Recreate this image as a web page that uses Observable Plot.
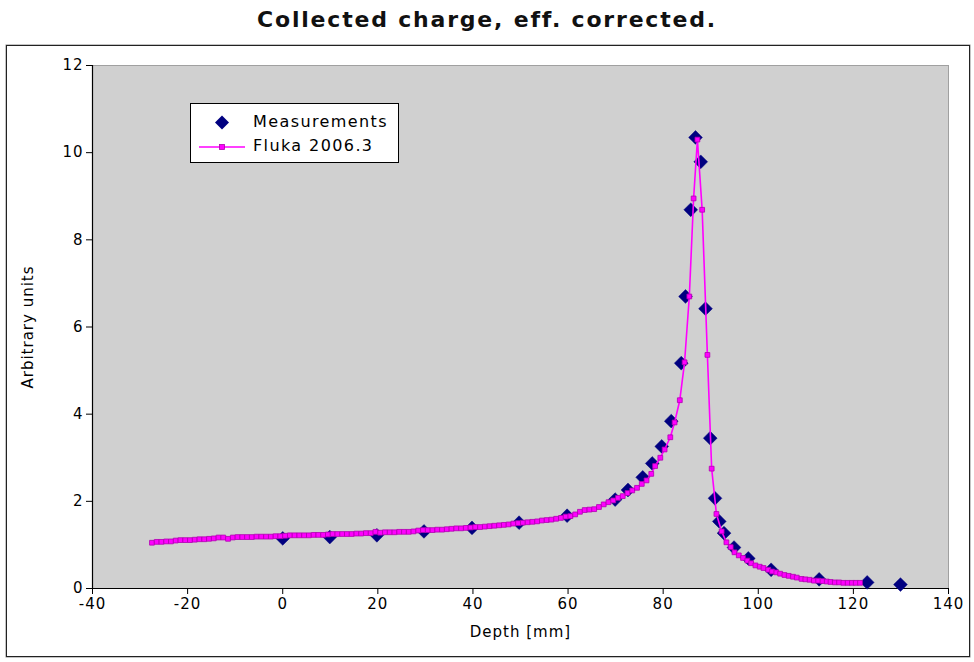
<!DOCTYPE html>
<html>
<head>
<meta charset="utf-8">
<script src="https://cdn.jsdelivr.net/npm/d3@7"></script>
<script src="https://cdn.jsdelivr.net/npm/@observablehq/plot@0.6"></script>
<style>
  html, body { margin: 0; padding: 0; background: #fff; width: 974px; height: 662px; overflow: hidden; font-family: "DejaVu Sans", sans-serif; }
  #title { position: absolute; left: 0; top: 7px; width: 974px; text-align: center; font: bold 22px "DejaVu Sans", sans-serif; letter-spacing: 1.8px; color: #111; }
  #box { position: absolute; left: 6px; top: 45px; width: 962px; height: 610px; border: 1px solid #222; box-shadow: 0 0 0 0.5px #888; }
  #chart { position: absolute; left: 0; top: 0; }
  #chart text { letter-spacing: 1px; }
  #legend { position: absolute; left: 183px; top: 57px; width: 207px; height: 58px; background: #fff; border: 1px solid #000; }
  #legend svg { position: absolute; left: 0; top: 0; }
  .lt { position: absolute; left: 62px; font: 16px "DejaVu Sans", sans-serif; letter-spacing: 1.4px; color: #000; line-height: 20px; }
</style>
</head>
<body>
<div id="title">Collected charge, eff. corrected.</div>
<div id="box">
  <div id="chart"></div>
  <div id="legend">
    <svg width="207" height="58">
      <path d="M31,11.5 L38,18.5 L31,25.5 L24,18.5 Z" fill="#000080"/>
      <line x1="8" y1="43" x2="54" y2="43" stroke="#ff00ff" stroke-width="1.5"/>
      <rect x="28.5" y="40.5" width="5" height="5" fill="#ff00ff" stroke="#b000b0" stroke-width="0.8"/>
    </svg>
    <div class="lt" style="top:8px">Measurements</div>
    <div class="lt" style="top:32px">Fluka 2006.3</div>
  </div>
</div>
<script>
// Measurements (diamonds)
const measDepth = [0, 9.9, 19.8, 29.7, 39.8, 49.7, 59.8, 69.9, 72.6, 75.7, 77.7, 79.7, 81.7, 83.8, 84.7, 85.8, 86.8, 87.9, 88.9, 89.9, 90.9, 91.8, 92.8, 94.9, 97.9, 102.7, 112.8, 122.9, 129.9];
const measValue = [1.15, 1.18, 1.22, 1.31, 1.39, 1.51, 1.67, 2.04, 2.26, 2.55, 2.87, 3.26, 3.84, 5.17, 6.70, 8.69, 10.35, 9.79, 6.42, 3.45, 2.07, 1.54, 1.27, 0.94, 0.69, 0.43, 0.21, 0.14, 0.09];

// Fluka 2006.3 simulation (line + small squares)
const flukaDepth = [-27.5, -26.5, -25.5, -24.5, -23.5, -22.5, -21.5, -20.5, -19.5, -18.5, -17.5, -16.5, -15.5, -14.5, -13.5, -12.5, -11.5, -10.5, -9.5, -8.5, -7.5, -6.5, -5.5, -4.5, -3.5, -2.5, -1.5, -0.5,
  0.5, 1.5, 2.5, 3.5, 4.5, 5.5, 6.5, 7.5, 8.5, 9.5, 10.5, 11.5, 12.5, 13.5, 14.5, 15.5, 16.5, 17.5, 18.5, 19.5, 20.5, 21.5, 22.5, 23.5, 24.5, 25.5, 26.5, 27.5, 28.5, 29.5,
  30.5, 31.5, 32.5, 33.5, 34.5, 35.5, 36.5, 37.5, 38.5, 39.5, 40.5, 41.5, 42.5, 43.5, 44.5, 45.5, 46.5, 47.5, 48.5, 49.5, 50.5, 51.5, 52.5, 53.5, 54.5, 55.5, 56.5, 57.5, 58.5, 59.5,
  60.5, 61.5, 62.5, 63.5, 64.5, 65.5, 66.5, 67.5, 68.5, 69.5, 70.5, 71.5, 72.5, 73.5, 74.5, 75.5, 76.5, 77.5, 78.3, 79.4, 80.3, 81.5, 82.4, 83.5, 84.5, 85.5, 86.4, 87.2, 88.2, 89.3, 90.2,
  91.2, 92.3, 93.3, 94.2, 95.0, 95.9, 96.8, 97.7, 98.5, 99.4, 100.3, 101.1, 102.1, 102.9, 103.8, 104.6, 105.5, 106.4, 107.3, 108.1, 109.1, 109.9, 110.8, 111.7, 112.6, 113.5, 114.4, 115.2, 116.1, 117.0, 117.9, 118.8, 119.7, 120.5, 121.4];
const flukaValue = [1.05, 1.07, 1.07, 1.08, 1.08, 1.10, 1.11, 1.11, 1.11, 1.12, 1.13, 1.13, 1.14, 1.15, 1.17, 1.17, 1.14, 1.17, 1.18, 1.18, 1.18, 1.18, 1.19, 1.19, 1.19, 1.19, 1.20, 1.20,
  1.21, 1.22, 1.22, 1.22, 1.22, 1.22, 1.23, 1.23, 1.23, 1.24, 1.25, 1.25, 1.25, 1.25, 1.25, 1.26, 1.26, 1.27, 1.27, 1.30, 1.28, 1.29, 1.29, 1.29, 1.30, 1.30, 1.30, 1.31, 1.33, 1.34,
  1.34, 1.34, 1.35, 1.35, 1.36, 1.37, 1.38, 1.38, 1.39, 1.40, 1.41, 1.41, 1.42, 1.43, 1.44, 1.45, 1.46, 1.47, 1.49, 1.50, 1.51, 1.52, 1.53, 1.54, 1.56, 1.57, 1.58, 1.60, 1.62, 1.65,
  1.66, 1.70, 1.76, 1.80, 1.81, 1.82, 1.87, 1.93, 1.98, 2.02, 2.08, 2.12, 2.19, 2.25, 2.31, 2.40, 2.48, 2.63, 2.81, 3.00, 3.19, 3.47, 3.81, 4.32, 5.19, 6.70, 8.95, 10.30, 8.69, 5.36, 2.75,
  1.71, 1.31, 1.06, 0.95, 0.83, 0.76, 0.70, 0.64, 0.58, 0.53, 0.50, 0.47, 0.43, 0.39, 0.37, 0.34, 0.31, 0.29, 0.27, 0.25, 0.22, 0.21, 0.20, 0.18, 0.18, 0.17, 0.16, 0.15, 0.14, 0.14, 0.13, 0.13, 0.13, 0.13, 0.13];

const xTicks = [-40, -20, 0, 20, 40, 60, 80, 100, 120, 140];
const yTicks = [0, 2, 4, 6, 8, 10, 12];
const xLabel = "Depth [mm]";
const yLabel = "Arbitrary units";

const meas = measDepth.map((d, i) => ({depth: d, value: measValue[i]}));
const fluka = flukaDepth.map((d, i) => ({depth: d, value: flukaValue[i]}));

const chart = Plot.plot({
  width: 962,
  height: 610,
  marginLeft: 85,
  marginTop: 19,
  marginRight: 21,
  marginBottom: 68,
  style: {fontFamily: "DejaVu Sans", fontSize: "15px", color: "#000", background: "transparent", overflow: "visible"},
  x: {domain: [-40, 140]},
  y: {domain: [0, 12]},
  marks: [
    Plot.frame({fill: "#d0d0d0", stroke: "#a0a0a0"}),
    Plot.ruleY([0], {stroke: "#000", strokeWidth: 1.2}),
    Plot.ruleX([-40], {stroke: "#000", strokeWidth: 1.2}),
    Plot.axisX({ticks: xTicks, tickSize: 6, tickPadding: 4, label: null, tickFormat: d => String(d), stroke: "#000"}),
    Plot.axisY({ticks: yTicks, tickSize: 6, tickPadding: 3, label: null, tickFormat: d => String(d), stroke: "#000"}),
    Plot.text([xLabel], {frameAnchor: "bottom", dy: 48, fontSize: 15, fill: "#000"}),
    Plot.text([yLabel], {frameAnchor: "left", dx: -64, rotate: -90, textAnchor: "middle", fontSize: 15, fill: "#000"}),
    Plot.dot(meas, {x: "depth", y: "value", symbol: "diamond2", r: 6.2, fill: "#000080", stroke: "#000080", strokeWidth: 0.5}),
    Plot.line(fluka, {x: "depth", y: "value", stroke: "#ff00ff", strokeWidth: 1.6}),
    Plot.dot(fluka, {x: "depth", y: "value", symbol: "square", r: 2.7, fill: "#ff00ff", stroke: "#b000b0", strokeWidth: 0.8})
  ]
});
document.getElementById("chart").appendChild(chart);
</script>
</body>
</html>
